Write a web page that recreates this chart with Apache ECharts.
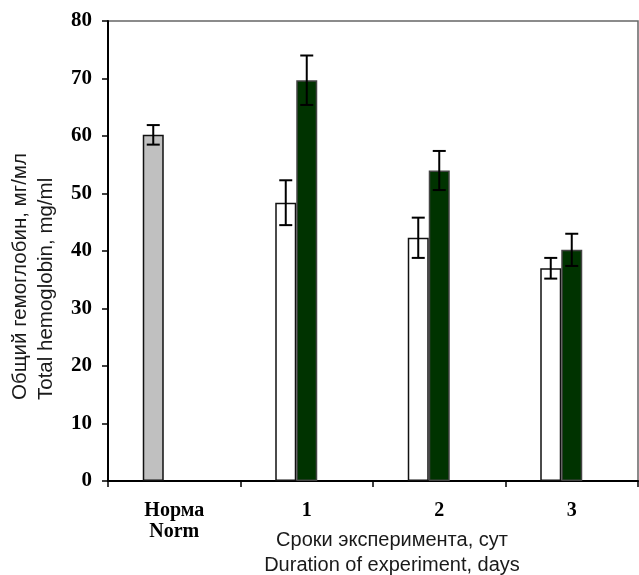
<!DOCTYPE html>
<html>
<head>
<meta charset="utf-8">
<script src="https://cdn.jsdelivr.net/npm/echarts@6/dist/echarts.min.js"></script>
<style>
    html, body { margin: 0; padding: 0; background: #fff; }
    #chart { width: 639px; height: 575px; }
</style>
</head>
<body>
<div id="chart"></div>
<script>
    // категории оси X
    const categories = ['Норма\nNorm', '1', '2', '3'];
    const yTicks = [0, 10, 20, 30, 40, 50, 60, 70, 80];

    // норма (серый столбик)
    const normValue = 60.2;
    const normError = 1.7;

    // белые столбики (сутки 1-3)
    const whiteValues = [48.4, 42.3, 37.0];
    const whiteErrors = [3.9, 3.5, 1.8];

    // тёмно-зелёные столбики (сутки 1-3)
    const greenValues = [69.7, 54.0, 40.2];
    const greenErrors = [4.3, 3.4, 2.8];

    const BAR_W = 21;
    const serif = 'Liberation Serif';
    const sans = 'Liberation Sans';

    const myChart = echarts.init(document.getElementById('chart'));

    // данные для столбиков
    const whiteData = [{ value: normValue, itemStyle: { color: '#c0c0c0' } }].concat(whiteValues);
    const greenData = ['-'].concat(greenValues);

    // планки погрешностей: [категория, среднее, ошибка, слот]
    const errData = [[0, normValue, normError, -1]];
    whiteValues.forEach((v, i) => errData.push([i + 1, v, whiteErrors[i], -1]));
    greenValues.forEach((v, i) => errData.push([i + 1, v, greenErrors[i], 0]));

    const renderError = (params, api) => {
        const slot = api.value(3);
        const hi = api.coord([api.value(0), api.value(1) + api.value(2)]);
        const lo = api.coord([api.value(0), api.value(1) - api.value(2)]);
        const x = hi[0] + slot * BAR_W;
        const cap = 6.5;
        const style = { stroke: '#000', lineWidth: 2 };
        return {
            type: 'group',
            children: [
                { type: 'line', shape: { x1: x, y1: hi[1], x2: x, y2: lo[1] }, style },
                { type: 'line', shape: { x1: x - cap, y1: hi[1], x2: x + cap, y2: hi[1] }, style },
                { type: 'line', shape: { x1: x - cap, y1: lo[1], x2: x + cap, y2: lo[1] }, style },
            ],
        };
    };

    const option = {
        animation: false,
        grid: {
            left: 108,
            right: 1,
            top: 21,
            bottom: 94,
            show: true,
            borderColor: '#666',
            borderWidth: 1.5,
        },
        xAxis: {
            type: 'category',
            data: categories,
            axisLine: { lineStyle: { color: '#000', width: 2 } },
            axisTick: { show: true, length: 6, interval: 0, lineStyle: { color: '#000', width: 1.5 } },
            axisLabel: {
                interval: 0,
                margin: 19,
                color: '#000',
                fontFamily: serif,
                fontWeight: 'bold',
                fontSize: 20,
                lineHeight: 21,
            },
        },
        yAxis: {
            type: 'value',
            min: yTicks[0],
            max: yTicks[yTicks.length - 1],
            interval: 10,
            splitLine: { show: false },
            axisLine: { show: true, lineStyle: { color: '#000', width: 2 } },
            axisTick: { show: true, length: 6, lineStyle: { color: '#000', width: 1.5 } },
            axisLabel: {
                margin: 16,
                color: '#000',
                fontFamily: serif,
                fontWeight: 'bold',
                fontSize: 21,
            },
        },
        graphic: [
            {
                type: 'text', x: 20, y: 400, rotation: Math.PI / 2,
                style: { text: 'Общий гемоглобин, мг/мл', fontFamily: sans, fontSize: 20.5, fill: '#1a1a1a', align: 'left', verticalAlign: 'middle' },
            },
            {
                type: 'text', x: 46.5, y: 400, rotation: Math.PI / 2,
                style: { text: 'Total hemoglobin, mg/ml', fontFamily: sans, fontSize: 20.5, fill: '#1a1a1a', align: 'left', verticalAlign: 'middle' },
            },
            {
                type: 'text', x: 392, y: 540,
                style: { text: 'Сроки эксперимента, сут', fontFamily: sans, fontSize: 20, fill: '#1a1a1a', align: 'center', verticalAlign: 'middle' },
            },
            {
                type: 'text', x: 392, y: 565,
                style: { text: 'Duration of experiment, days', fontFamily: sans, fontSize: 20, fill: '#1a1a1a', align: 'center', verticalAlign: 'middle' },
            },
        ],
        series: [
            {
                type: 'bar',
                barWidth: BAR_W,
                barGap: '0%',
                itemStyle: { color: '#ffffff', borderColor: '#111', borderWidth: 1.5 },
                data: whiteData,
            },
            {
                type: 'bar',
                barWidth: BAR_W,
                barGap: '0%',
                itemStyle: { color: '#003300', borderColor: '#444', borderWidth: 1.5 },
                data: greenData,
            },
            {
                // пустой третий слот, как в исходной диаграмме
                type: 'bar',
                barWidth: BAR_W,
                barGap: '0%',
                data: ['-', '-', '-', '-'],
            },
            {
                type: 'custom',
                renderItem: renderError,
                data: errData,
                z: 10,
            },
        ],
    };

    myChart.setOption(option);
</script>
</body>
</html>
